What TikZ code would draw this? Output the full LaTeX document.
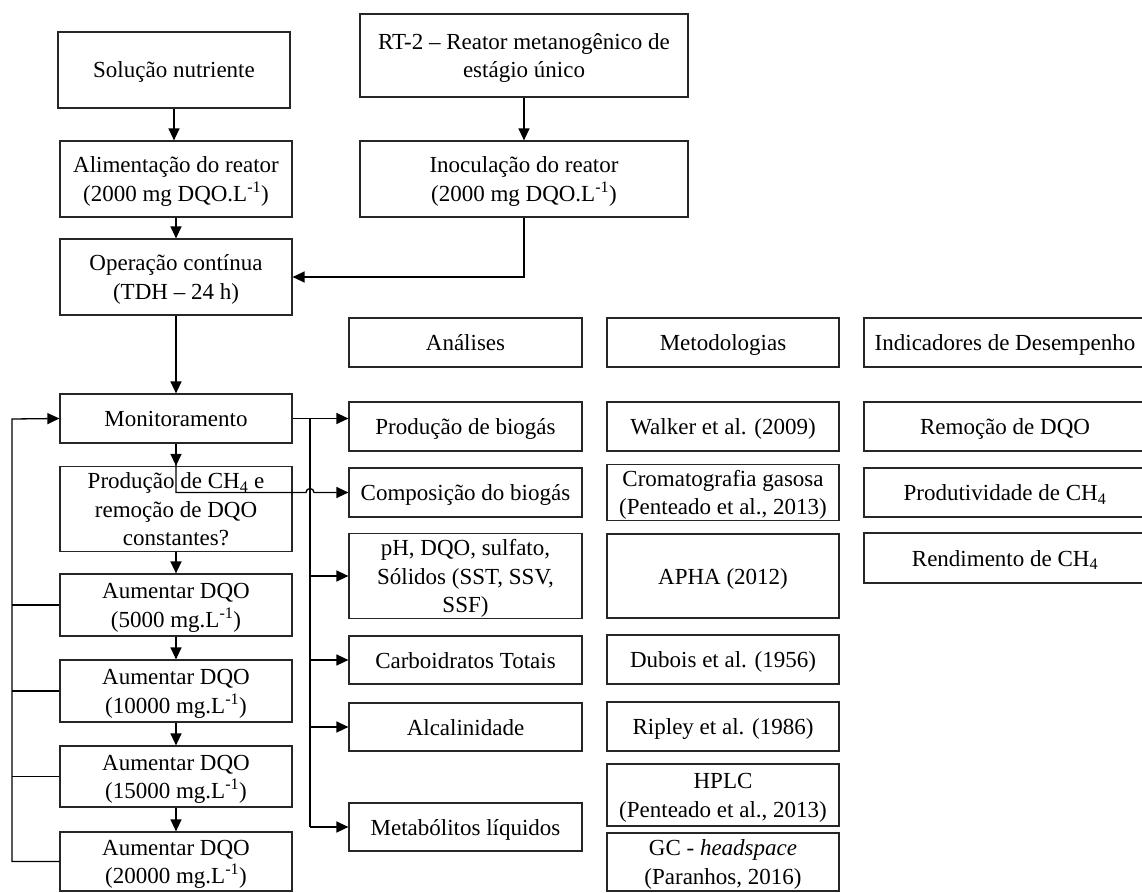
\documentclass[tikz,border=0pt]{standalone}
\usepackage{fontspec}
\setmainfont{Liberation Serif}
\usetikzlibrary{arrows.meta}
\newcommand\mystrut{\rule[-6pt]{0pt}{28pt}}
\newcommand\bx[6]{\node[box,minimum width={#3-#2},minimum height={#5-#4}] (#1) at ({(#2+#3)/2},{(#4+#5)/2}) {\mystrut #6\mystrut};}
\begin{document}
\begin{tikzpicture}[x=1pt,y=-1pt,
  box/.style={draw=black!85, line width=1.2pt, inner sep=0pt, align=center, font=\fontsize{23}{28.5}\selectfont},
  arr/.style={-{Triangle[length=12pt,width=11pt]}, line width=1.3pt},
  ln/.style={line width=1.3pt}]
\useasboundingbox (0,0) rectangle (1142,893);
% left column
\bx{sol}{58}{290}{32}{108}{Solução nutriente}
\bx{rt}{360}{688}{14}{97}{RT-2 – Reator metanogênico de\\estágio único}
\bx{alim}{60}{292}{141}{217}{Alimentação do reator\\(2000 mg DQO.L\textsuperscript{-1})}
\bx{inoc}{360}{688}{141}{217}{Inoculação do reator\\(2000 mg DQO.L\textsuperscript{-1})}
\bx{oper}{60}{292}{239}{315}{Operação contínua\\(TDH – 24 h)}
\bx{monit}{60}{292}{394}{443}{Monitoramento}
\bx{dec}{60}{292}{467}{551}{Produção de CH\textsubscript{4} e\\remoção de DQO\\constantes?}
\bx{a5}{60}{292}{574}{636}{Aumentar DQO\\(5000 mg.L\textsuperscript{-1})}
\bx{a10}{60}{292}{660}{722}{Aumentar DQO\\(10000 mg.L\textsuperscript{-1})}
\bx{a15}{60}{292}{746}{807}{Aumentar DQO\\(15000 mg.L\textsuperscript{-1})}
\bx{a20}{60}{292}{832}{891}{Aumentar DQO\\(20000 mg.L\textsuperscript{-1})}
% analyses
\bx{hA}{349}{582}{318}{367}{Análises}
\bx{prod}{349}{582}{402}{451}{Produção de biogás}
\bx{comp}{349}{582}{468}{517}{Composição do biogás}
\bx{ph}{349}{582}{534}{618}{pH, DQO, sulfato,\\Sólidos (SST, SSV,\\SSF)}
\bx{carb}{349}{582}{636}{684}{Carboidratos Totais}
\bx{alc}{349}{582}{703}{751}{Alcalinidade}
\bx{metab}{349}{582}{803}{851}{Metabólitos líquidos}
% methods
\bx{hM}{607}{839}{318}{367}{Metodologias}
\bx{walker}{607}{839}{402}{451}{Walker et al. (2009)}
\bx{crom}{607}{839}{468}{517}{Cromatografia gasosa\\(Penteado et al., 2013)}
\bx{apha}{607}{839}{534}{618}{APHA (2012)}
\bx{dubois}{607}{839}{635}{684}{Dubois et al. (1956)}
\bx{ripley}{607}{839}{702}{751}{Ripley et al. (1986)}
\bx{hplc}{607}{839}{764}{826}{HPLC\\(Penteado et al., 2013)}
\bx{gc}{607}{839}{833}{891}{GC - \textit{headspace}\\(Paranhos, 2016)}
% indicators
\bx{hI}{864}{1146}{318}{367}{Indicadores de Desempenho}
\bx{rem}{864}{1146}{402}{451}{Remoção de DQO}
\bx{pch}{864}{1146}{468}{517}{Produtividade de CH\textsubscript{4}}
\bx{rend}{864}{1146}{533}{583}{Rendimento de CH\textsubscript{4}}
% connectors top
\draw[arr] (sol.south) -- (sol.south |- alim.north);
\draw[arr] (alim.south) -- (oper.north);
\draw[arr] (rt.south) -- (inoc.north);
\draw[arr] (inoc.south) |- (oper.east);
\draw[arr] (oper.south) -- (monit.north);
\draw[arr] (monit.south) -- (dec.north);
\draw[arr] (dec.south) -- (a5.north);
\draw[arr] (a5.south) -- (a10.north);
\draw[arr] (a10.south) -- (a15.north);
\draw[arr] (a15.south) -- (a20.north);
% left feedback bus
\coordinate (lb) at (12,419);
\draw[arr] (a20.west) -- (a20.west -| lb) -- (lb) -- (monit.west);
\draw[ln] (a5.west) -- (a5.west -| lb);
\draw[ln] (a10.west) -- (a10.west -| lb);
\draw[ln] (a15.west) -- (a15.west -| lb);
% right bus
\coordinate (rb) at (310,419);
\draw[arr] (monit.east) -- (monit.east -| prod.west);
\draw[ln] (rb) -- (rb |- metab.west);
\draw[arr] (rb |- ph.west) -- (ph.west);
\draw[arr] (rb |- carb.west) -- (carb.west);
\draw[arr] (rb |- alc.west) -- (alc.west);
\draw[arr] (rb |- metab.west) -- (metab.west);
\coordinate (hop) at (rb |- comp.west);
\draw[arr] (monit.south) |- ([xshift=-4pt]hop) arc[start angle=180,end angle=0,radius=4pt] -- (comp.west);
\end{tikzpicture}
\end{document}
